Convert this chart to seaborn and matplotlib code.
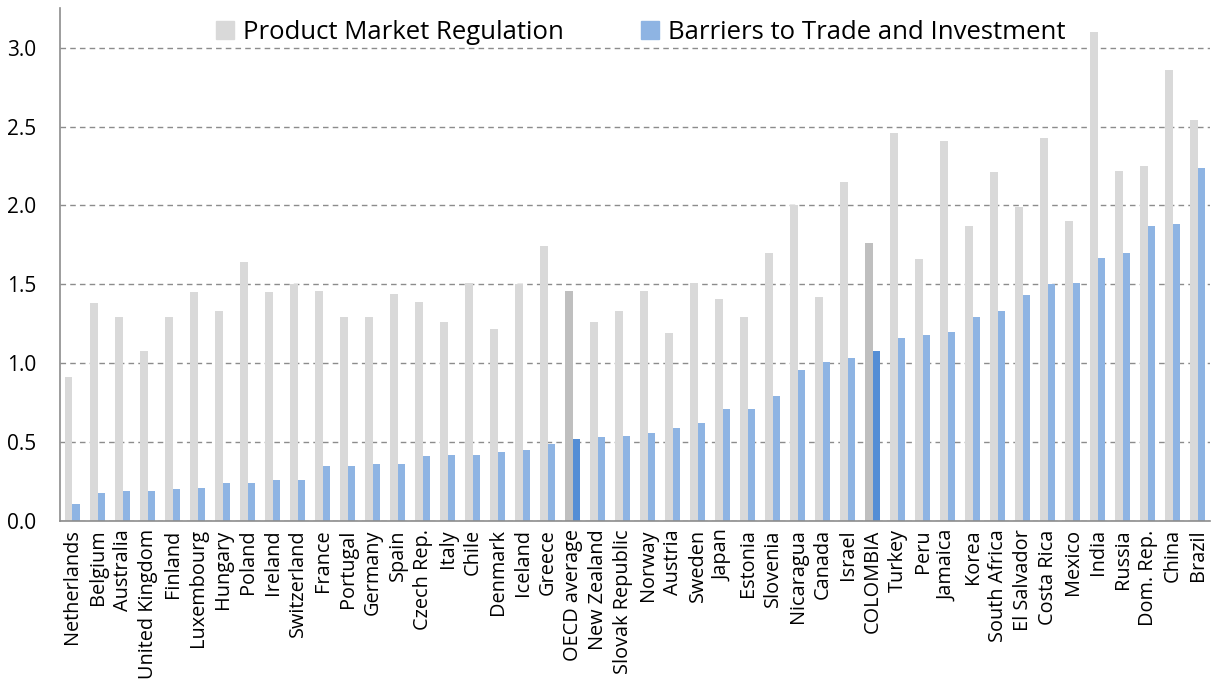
import matplotlib
matplotlib.use("Agg")
import matplotlib.pyplot as plt
import matplotlib.patches as mpatches
import seaborn as sns
import pandas as pd

# datos
countries = ["Netherlands", "Belgium", "Australia", "United Kingdom", "Finland", "Luxembourg",
             "Hungary", "Poland", "Ireland", "Switzerland", "France", "Portugal", "Germany",
             "Spain", "Czech Rep.", "Italy", "Chile", "Denmark", "Iceland", "Greece",
             "OECD average", "New Zealand", "Slovak Republic", "Norway", "Austria", "Sweden",
             "Japan", "Estonia", "Slovenia", "Nicaragua", "Canada", "Israel", "COLOMBIA",
             "Turkey", "Peru", "Jamaica", "Korea", "South Africa", "El Salvador", "Costa Rica",
             "Mexico", "India", "Russia", "Dom. Rep.", "China", "Brazil"]

pmr = [0.91, 1.38, 1.29, 1.08, 1.29, 1.45, 1.33, 1.64, 1.45, 1.50, 1.46, 1.29, 1.29,
       1.44, 1.39, 1.26, 1.51, 1.22, 1.50, 1.74, 1.46, 1.26, 1.33, 1.46, 1.19, 1.51,
       1.41, 1.29, 1.70, 2.00, 1.42, 2.15, 1.76, 2.46, 1.66, 2.41, 1.87, 2.21, 1.99,
       2.43, 1.90, 3.10, 2.22, 2.25, 2.86, 2.54]

btti = [0.11, 0.18, 0.19, 0.19, 0.20, 0.21, 0.24, 0.24, 0.26, 0.26, 0.35, 0.35, 0.36,
        0.36, 0.41, 0.42, 0.42, 0.44, 0.45, 0.49, 0.52, 0.53, 0.54, 0.56, 0.59, 0.62,
        0.71, 0.71, 0.79, 0.96, 1.01, 1.03, 1.08, 1.16, 1.18, 1.20, 1.29, 1.33, 1.43,
        1.50, 1.51, 1.67, 1.70, 1.87, 1.88, 2.24]

series = ["Product Market Regulation", "Barriers to Trade and Investment"]
highlight = ["OECD average", "COLOMBIA"]

df = pd.DataFrame({
    "country": countries * 2,
    "value": pmr + btti,
    "series": [series[0]] * len(countries) + [series[1]] * len(countries),
})

sns.set_style("white")
plt.rcParams["font.family"] = ["Open Sans", "DejaVu Sans"]
plt.rcParams["text.color"] = "black"
plt.rcParams["xtick.color"] = "black"
plt.rcParams["ytick.color"] = "black"

gray, blue = "#D9D9D9", "#8EB4E3"
gray_h, blue_h = "#BFBFBF", "#558ED5"

fig = plt.figure(figsize=(12.12, 6.9), dpi=100)
ax = fig.add_axes([0.0495, 0.245, 0.949, 0.743])

sns.barplot(data=df, x="country", y="value", hue="series", order=countries,
            hue_order=series, palette=[gray, blue], width=0.6, dodge=True,
            saturation=1, linewidth=0, ax=ax, legend=False)

# resaltar OECD y Colombia
for i, c in enumerate(countries):
    if c in highlight:
        ax.containers[0][i].set_facecolor(gray_h)
        ax.containers[1][i].set_facecolor(blue_h)

ax.set_ylim(0, 3.25)
ax.set_xlim(-0.5, len(countries) - 0.5)
ax.set_yticks([0, 0.5, 1.0, 1.5, 2.0, 2.5, 3.0])
ax.set_yticklabels(["0.0", "0.5", "1.0", "1.5", "2.0", "2.5", "3.0"], fontsize=15)
ax.yaxis.grid(True, color="#8C8C8C", linestyle=(0, (4, 3)), linewidth=1)
ax.set_axisbelow(True)
ax.tick_params(axis="y", length=7, color="#8C8C8C", labelcolor="black", width=1, pad=10)

ax.set_xticks(range(len(countries)))
ax.set_xticklabels(countries, rotation=90, fontsize=14.3)
ax.set_xticks([i - 0.5 for i in range(len(countries) + 1)], minor=True)
ax.tick_params(axis="x", which="major", length=0, pad=6, labelcolor="black")
ax.tick_params(axis="x", which="minor", length=6, color="#8C8C8C", width=1)

for s in ["top", "right"]:
    ax.spines[s].set_visible(False)
for s in ["left", "bottom"]:
    ax.spines[s].set_color("#8C8C8C")
    ax.spines[s].set_linewidth(1.2)

ax.set_xlabel("")
ax.set_ylabel("")

handles = [mpatches.Patch(color=gray, label=series[0]),
           mpatches.Patch(color=blue, label=series[1])]
ax.legend(handles=handles, loc="upper center", bbox_to_anchor=(0.505, 1.022), ncol=2,
          frameon=False, fontsize=18.5, handlelength=0.7, handleheight=0.7,
          handletextpad=0.35, columnspacing=3.0)

plt.savefig("out.png", dpi=100)
